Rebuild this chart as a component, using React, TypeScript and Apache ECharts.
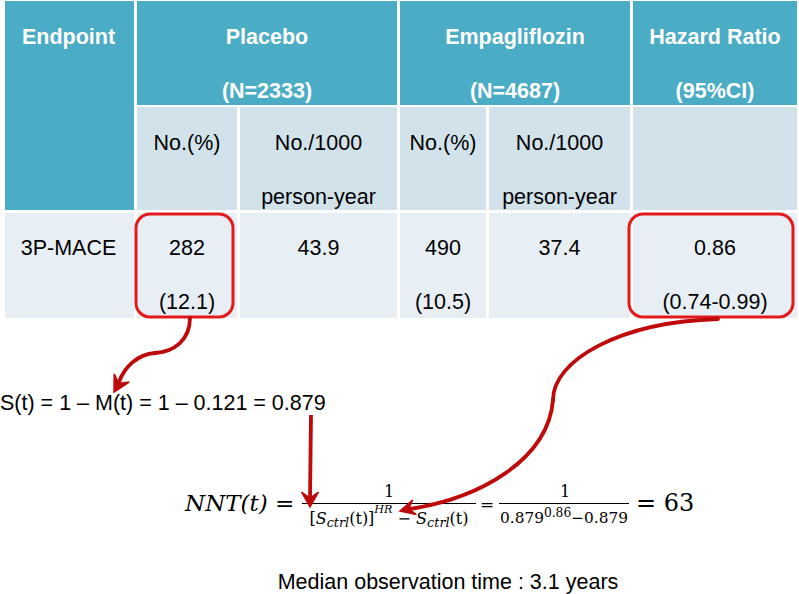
import React, { useEffect, useRef } from "react";
import * as echarts from "echarts";

// ---------- data ----------
const groupHeaders = ["Endpoint", "Placebo", "Empagliflozin", "Hazard Ratio"];
const groupSizes = ["", "(N=2333)", "(N=4687)", "(95%CI)"];
const subHeaderLine1 = ["No.(%)", "No./1000", "No.(%)", "No./1000", ""];
const subHeaderLine2 = ["", "person-year", "", "person-year", ""];
const endpoints = ["3P-MACE"];
const placeboEvents = [282];
const placeboPercent = [12.1];
const placeboRate = [43.9];
const empaEvents = [490];
const empaPercent = [10.5];
const empaRate = [37.4];
const hazardRatio = [0.86];
const hrLower = [0.74];
const hrUpper = [0.99];
const controlMortality = [0.121];
const controlSurvival = [0.879];
const nntValues = [63];
const medianYears = [3.1];

// ---------- style ----------
const SANS = "'Liberation Sans', Arial, Helvetica, sans-serif";
const MATH = "'DejaVu Serif', 'Liberation Serif', serif";
const TEAL = "#4BACC6";
const SUB_BG = "#D2E2EA";
const ROW_BG = "#E8EFF4";
const BOX_RED = "#E31A1C";
const ARROW_RED = "#BE0A0A";
const FS = 21.5;

let _ctx: CanvasRenderingContext2D | null = null;
function measure(text: string, font: string) {
  if (!_ctx) _ctx = document.createElement("canvas").getContext("2d");
  _ctx!.font = font;
  return _ctx!.measureText(text).width;
}

function txt(text: string, x: number, y: number, o: any = {}) {
  return {
    type: "text",
    silent: true,
    z: o.z ?? 5,
    style: {
      text,
      x,
      y,
      fill: o.fill ?? "#000",
      fontSize: o.size ?? FS,
      fontFamily: o.family ?? SANS,
      fontWeight: o.weight ?? "normal",
      fontStyle: o.italic ? "italic" : "normal",
      align: o.align ?? "center",
      textAlign: o.align ?? "center",
      verticalAlign: "middle",
      textVerticalAlign: "middle",
    },
  };
}

function rect(x0: number, y0: number, x1: number, y1: number, fill: string) {
  return { type: "rect", silent: true, z: 1, shape: { x: x0, y: y0, width: x1 - x0, height: y1 - y0 }, style: { fill } };
}

type Piece = { s: string; italic?: boolean; scale?: number; dy?: number };
function mathFont(p: Piece, size: number) {
  return `${p.italic ? "italic " : ""}${size * (p.scale ?? 1)}px ${MATH}`;
}
function flowMath(pieces: Piece[], size: number, centerX: number, y: number, alignLeft = false) {
  const widths = pieces.map((p) => measure(p.s, mathFont(p, size)));
  const total = widths.reduce((a, b) => a + b, 0);
  let x = alignLeft ? centerX : centerX - total / 2;
  return pieces.map((p, i) => {
    const el = txt(p.s, x, y + (p.dy ?? 0), {
      family: MATH,
      size: size * (p.scale ?? 1),
      italic: p.italic,
      align: "left",
      fill: "#000",
    });
    x += widths[i];
    return el;
  });
}
function fitSize(pieces: Piece[], target: number, maxSize: number) {
  const w = pieces.map((p) => measure(p.s, mathFont(p, 100))).reduce((a, b) => a + b, 0);
  return Math.min(maxSize, (target * 100) / w);
}

function bez(p0: number[], c1: number[], c2: number[], p1: number[], color: string, w: number) {
  return {
    type: "bezierCurve",
    silent: true,
    z: 8,
    shape: { x1: p0[0], y1: p0[1], cpx1: c1[0], cpy1: c1[1], cpx2: c2[0], cpy2: c2[1], x2: p1[0], y2: p1[1] },
    style: { stroke: color, lineWidth: w, fill: null, lineCap: "round" },
  };
}
function head(tx: number, ty: number, dx: number, dy: number, len: number, hw: number, color: string) {
  const n = Math.hypot(dx, dy);
  const ux = dx / n, uy = dy / n;
  const px = -uy, py = ux;
  const bx = tx - ux * len, by = ty - uy * len;
  const nx = tx - ux * len * 0.6, ny = ty - uy * len * 0.6;
  return {
    type: "polygon",
    silent: true,
    z: 9,
    shape: { points: [[tx, ty], [bx + px * hw, by + py * hw], [nx, ny], [bx - px * hw, by - py * hw]] },
    style: { fill: color, stroke: color, lineWidth: 1.5, lineJoin: "miter" },
  };
}

function buildGraphics() {
  const g: any[] = [];
  // table geometry
  const groupCols = [[5, 134], [137, 397], [400, 630], [633, 797]];
  const subCols = [[137, 237], [240, 397], [400, 486], [489, 630], [633, 797]];
  const dataCols = [[5, 134], [137, 237], [240, 397], [400, 486], [489, 630], [633, 797]];
  const rowH = [1, 105];
  const rowS = [107, 210];
  const rowD = [213, 318];

  groupCols.forEach((c, i) => {
    g.push(rect(c[0], rowH[0], c[1], i === 0 ? rowS[1] : rowH[1], TEAL));
    const cx = (c[0] + c[1]) / 2 - (i === 0 ? 1 : 0);
    g.push(txt(groupHeaders[i], cx, 37, { weight: "bold", fill: "#fff" }));
    if (groupSizes[i]) g.push(txt(groupSizes[i], cx, 91, { weight: "bold", fill: "#fff" }));
  });
  subCols.forEach((c, i) => {
    g.push(rect(c[0], rowS[0], c[1], rowS[1], SUB_BG));
    const cx = (c[0] + c[1]) / 2;
    if (subHeaderLine1[i]) g.push(txt(subHeaderLine1[i], cx, 143));
    if (subHeaderLine2[i]) g.push(txt(subHeaderLine2[i], cx, 197));
  });
  const k = 0;
  const line1 = [
    endpoints[k],
    String(placeboEvents[k]),
    placeboRate[k].toFixed(1),
    String(empaEvents[k]),
    empaRate[k].toFixed(1),
    hazardRatio[k].toFixed(2),
  ];
  const line2 = [
    "",
    `(${placeboPercent[k].toFixed(1)})`,
    "",
    `(${empaPercent[k].toFixed(1)})`,
    "",
    `(${hrLower[k].toFixed(2)}-${hrUpper[k].toFixed(2)})`,
  ];
  dataCols.forEach((c, i) => {
    g.push(rect(c[0], rowD[0], c[1], rowD[1], ROW_BG));
    const cx = (c[0] + c[1]) / 2 - (i === 0 ? 1 : 0);
    g.push(txt(line1[i], cx, 248));
    if (line2[i]) g.push(txt(line2[i], cx, 302));
  });

  // red highlight boxes
  const box = (x0: number, y0: number, x1: number, y1: number) => ({
    type: "rect",
    silent: true,
    z: 7,
    shape: { x: x0, y: y0, width: x1 - x0, height: y1 - y0, r: 14 },
    style: { fill: null, stroke: BOX_RED, lineWidth: 3 },
  });
  g.push(box(136, 214, 233, 317));
  g.push(box(629, 214, 793, 317));

  // survival formula
  g.push(
    txt(`S(t) = 1 – M(t) = 1 – ${controlMortality[0]} = ${controlSurvival[0]}`, 0, 403, { align: "left" })
  );

  // NNT formula
  g.push(...flowMath([{ s: "NNT(t)", italic: true }, { s: " =" }], 23, 185, 503, true));

  // fraction 1
  const den1: Piece[] = [
    { s: "[" },
    { s: "S", italic: true },
    { s: "ctrl", italic: true, scale: 0.8, dy: 4 },
    { s: "(t)]" },
    { s: "HR", italic: true, scale: 0.7, dy: -9 },
    { s: " − " },
    { s: "S", italic: true },
    { s: "ctrl", italic: true, scale: 0.8, dy: 4 },
    { s: "(t)" },
  ];
  const s1 = Math.max(14.5, fitSize(den1, 172, 16));
  g.push(...flowMath(den1, s1, 389, 518));
  g.push(txt("1", 389, 491, { family: MATH, size: 16 }));
  g.push({ type: "line", silent: true, z: 5, shape: { x1: 302, y1: 503.5, x2: 476, y2: 503.5 }, style: { stroke: "#000", lineWidth: 1.2 } });
  g.push(txt("=", 487, 504, { family: MATH, size: 17 }));

  // fraction 2
  const den2: Piece[] = [
    { s: String(controlSurvival[0]) },
    { s: hazardRatio[0].toFixed(2), scale: 0.8, dy: -5 },
    { s: `−${controlSurvival[0]}` },
  ];
  const s2 = Math.max(14.5, fitSize(den2, 128, 17));
  g.push(...flowMath(den2, s2, 564, 518));
  g.push(txt("1", 565, 491, { family: MATH, size: 16 }));
  g.push({ type: "line", silent: true, z: 5, shape: { x1: 499, y1: 503.5, x2: 629, y2: 503.5 }, style: { stroke: "#000", lineWidth: 1.2 } });
  g.push(...flowMath([{ s: `= ${nntValues[0]}` }], 24, 636, 503, true));

  // median observation
  g.push(txt(`Median observation time : ${medianYears[0]} years`, 448, 582));

  // arrows
  g.push(bez([190, 318], [190, 340], [174, 352], [155, 353], ARROW_RED, 3.8));
  g.push(bez([155, 353], [137, 354], [124, 368], [119, 382], ARROW_RED, 3.8));
  g.push(head(114, 392, -0.48, 0.88, 16, 8.5, ARROW_RED));

  g.push({ type: "line", silent: true, z: 8, shape: { x1: 311, y1: 415, x2: 310, y2: 500 }, style: { stroke: ARROW_RED, lineWidth: 3.8 } });
  g.push(head(310, 507, 0, 1, 15, 8.5, ARROW_RED));

  g.push(bez([718, 319], [620, 322], [553, 360], [553, 400], ARROW_RED, 3.8));
  g.push(bez([553, 400], [548, 460], [480, 498], [410, 509], ARROW_RED, 3.8));
  g.push(head(400, 511, -0.96, 0.25, 15, 7.5, ARROW_RED));

  return g;
}

export default function App() {
  const ref = useRef<HTMLDivElement>(null);
  useEffect(() => {
    if (!ref.current) return;
    const chart = echarts.init(ref.current, undefined, { renderer: "svg" });
    chart.setOption({
      animation: false,
      backgroundColor: "#ffffff",
      graphic: { elements: buildGraphics() },
    });
    return () => chart.dispose();
  }, []);
  return (
    <div
      ref={ref}
      style={{ position: "fixed", left: 0, top: 0, width: 799, height: 594, background: "#fff" }}
    />
  );
}
